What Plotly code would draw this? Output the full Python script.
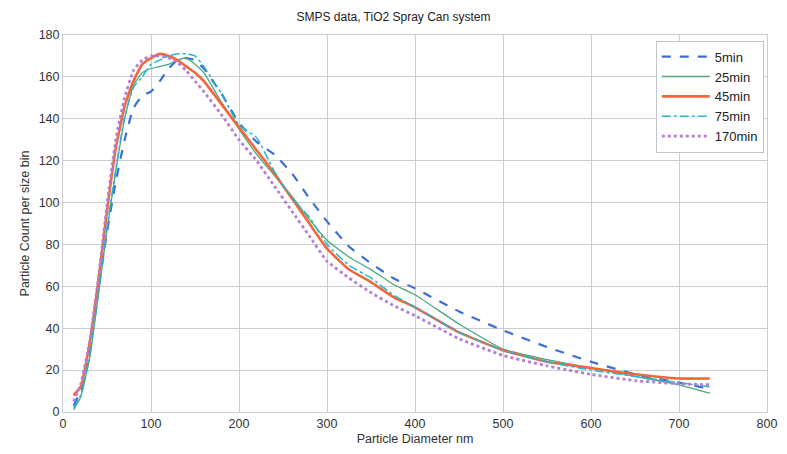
import plotly.graph_objects as go

# Particle diameter (nm) of the sampled size bins
diameter_nm = [12, 20, 30, 40, 50, 60, 70, 80, 90, 100, 110, 120, 130, 140, 150, 160, 180,
               200, 220, 240, 260, 280, 300, 325, 350, 375, 400, 450, 500, 550, 600, 650, 700, 735]

# Particle count per size bin for each sampling time
count_5min = [3, 10, 28, 58, 86, 110, 130, 145, 151, 153, 158, 164, 168, 169, 168, 164, 152,
              138, 129, 123, 114, 102, 91, 79, 71, 64, 59, 48, 39, 31, 24, 18, 14, 11]
count_25min = [1, 7, 25, 55, 87, 115, 140, 156, 162, 164, 165, 166, 168, 169, 166, 162, 148,
               135, 123, 113, 103, 92, 82, 74, 68, 61, 56, 42, 30, 25, 21, 17, 13, 9]
count_45min = [8, 12, 32, 62, 96, 126, 146, 158, 166, 169, 171, 170, 168, 165, 162, 158, 147,
               136, 125, 114, 102, 90, 78, 68, 62, 55, 50, 38, 29.5, 24, 21, 18, 16, 16]
count_75min = [2, 8, 26, 56, 88, 116, 141, 155, 160, 166, 168, 170, 171, 171, 170, 165, 152,
               137, 131, 115, 102, 93, 80, 70, 64, 56, 50, 38, 29.5, 24, 20, 17, 14, 12]
count_170min = [5, 13, 33, 63, 99, 130, 150, 163, 168, 170, 170, 169, 167, 163, 158, 153, 142,
                130, 120, 108, 96, 84, 72, 64, 57, 51, 46, 35, 27, 22, 18, 15, 13.5, 13]

series_names = ["5min", "25min", "45min", "75min", "170min"]
series_values = [count_5min, count_25min, count_45min, count_75min, count_170min]
series_styles = [
    dict(color="#3b6fd4", width=2.2, dash="dash"),
    dict(color="#4aa87a", width=1.3, dash="solid"),
    dict(color="#f2673a", width=2.6, dash="solid"),
    dict(color="#22b5d6", width=1.5, dash="dashdot"),
    dict(color="#b57ed6", width=2.8, dash="dot"),
]

fig = go.Figure()
for name, values, style in zip(series_names, series_values, series_styles):
    fig.add_trace(go.Scatter(x=diameter_nm, y=values, mode="lines", name=name,
                             line=dict(shape="spline", smoothing=0.4, **style)))

font_family = "Liberation Sans, Arial, sans-serif"
grid_color = "#c9ced6"

fig.update_layout(
    width=787, height=454,
    margin=dict(l=63, r=20, t=35, b=42),
    paper_bgcolor="white", plot_bgcolor="white",
    font=dict(family=font_family, size=12, color="#333333"),
    title=dict(text="SMPS data, TiO2 Spray Can system", x=0.5, xanchor="center",
               y=1 - 17 / 454, yanchor="middle", font=dict(size=12, color="#222222")),
    legend=dict(x=0.842, y=0.985, xanchor="left", yanchor="top",
                bgcolor="white", bordercolor="#c0c4cc", borderwidth=1,
                font=dict(size=13, color="#222222"), tracegroupgap=0,
                itemwidth=48),
    showlegend=True,
)
fig.update_xaxes(range=[0, 800], dtick=100, showgrid=True, gridcolor=grid_color, gridwidth=1,
                 zeroline=False, showline=True, linecolor=grid_color, mirror=True,
                 ticks="", tickfont=dict(size=12.5), automargin=False,
                 title=dict(text="Particle Diameter nm", standoff=4, font=dict(size=12.5)))
fig.update_yaxes(range=[0, 180], dtick=20, showgrid=True, gridcolor=grid_color, gridwidth=1,
                 zeroline=False, showline=True, linecolor=grid_color, mirror=True,
                 ticks="", tickfont=dict(size=12.5), automargin=False,
                 title=dict(text="Particle Count per size bin", standoff=6, font=dict(size=12.5)))

fig.write_html("out.html")
